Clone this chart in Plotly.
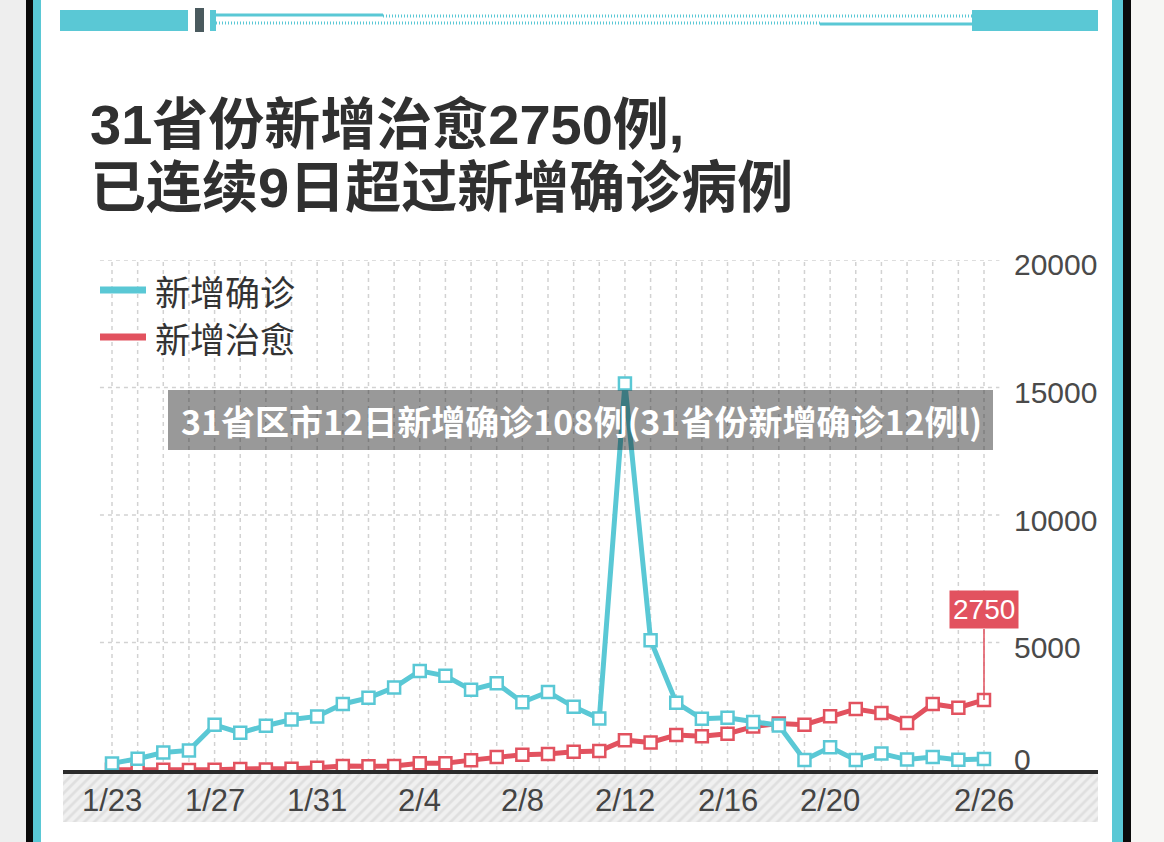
import plotly.graph_objects as go

W, H = 1164, 842

# ---------------- data ----------------
dates = ["1/23", "1/24", "1/25", "1/26", "1/27", "1/28", "1/29", "1/30", "1/31",
         "2/1", "2/2", "2/3", "2/4", "2/5", "2/6", "2/7", "2/8", "2/9", "2/10",
         "2/11", "2/12", "2/13", "2/14", "2/15", "2/16", "2/17", "2/18", "2/19",
         "2/20", "2/21", "2/22", "2/23", "2/24", "2/25", "2/26"]
confirmed = [259, 444, 688, 769, 1771, 1459, 1737, 1982, 2102, 2590, 2829, 3235,
             3887, 3694, 3143, 3399, 2656, 3062, 2478, 2015, 15152, 5090, 2641,
             2009, 2048, 1886, 1749, 394, 889, 397, 648, 409, 508, 406, 433]
cured = [6, 3, 11, 2, 9, 43, 21, 47, 85, 157, 147, 157, 262, 261, 387, 510, 600,
         632, 716, 744, 1171, 1081, 1373, 1323, 1425, 1701, 1824, 1779, 2109,
         2394, 2231, 1846, 2589, 2441, 2750]
x_tick_labels = ["1/23", "1/27", "1/31", "2/4", "2/8", "2/12", "2/16", "2/20", "2/26"]
y_ticks = [0, 5000, 10000, 15000, 20000]
series_names = ["新增确诊", "新增治愈"]
title_lines = ["31省份新增治愈2750例,", "已连续9日超过新增确诊病例"]
banner_text = "31省区市12日新增确诊108例(31省份新增确诊12例l)"

CYAN = "#5ac8d5"
RED = "#e2525f"
FONT_CJK = "Noto Sans CJK SC"
FONT_MIX = "Liberation Sans, Noto Sans CJK SC, sans-serif"
FONT_NUM = "Liberation Sans, Arial, sans-serif"


def px(x):
    return x / W


def py(y):
    return 1 - y / H


idx = list(range(len(dates)))
tick_idx = [dates.index(t) for t in x_tick_labels]

# plot area geometry (pixels)
X0, X1 = 63, 1098
Y_TOP, Y_BOT = 260, 770
first_px, last_px = 112, 984
per_day = (last_px - first_px) / (len(dates) - 1)
xr = [-(first_px - X0) / per_day, (len(dates) - 1) + (X1 - last_px) / per_day]

fig = go.Figure()

# hatched band under the axis (own subplot, drawn first)
fig.add_trace(go.Bar(
    x=[0], y=[1], width=[1], xaxis="x2", yaxis="y2", showlegend=False,
    hoverinfo="skip",
    marker=dict(color="#eeeeee", line=dict(width=0),
                pattern=dict(shape="/", bgcolor="#f0f0f0", fgcolor="#cdcdcd",
                             size=7, solidity=0.4)),
))

fig.add_trace(go.Scatter(
    x=idx, y=cured, mode="lines+markers", name=series_names[1], showlegend=False,
    cliponaxis=False,
    line=dict(color=RED, width=5),
    marker=dict(symbol="square", size=12, color="white", line=dict(color=RED, width=2.5)),
))
fig.add_trace(go.Scatter(
    x=idx, y=confirmed, mode="lines+markers", name=series_names[0], showlegend=False,
    cliponaxis=False,
    line=dict(color=CYAN, width=5),
    marker=dict(symbol="square", size=12, color="white", line=dict(color=CYAN, width=2.5)),
))

shapes = []
# gridlines (dashed)
for v in y_ticks[1:]:
    shapes.append(dict(type="line", xref="x", yref="y", x0=-0.47, x1=34.6, y0=v, y1=v,
                       line=dict(color="#d2d2d2", width=1.5, dash="4px,4px"), layer="below"))
for i in idx:
    shapes.append(dict(type="line", xref="x", yref="y", x0=i, x1=i, y0=0, y1=y_ticks[-1],
                       line=dict(color="#d2d2d2", width=1.5, dash="4px,4px"), layer="below"))

# frame: outer gray, black bezel, cyan edge
shapes += [
    dict(type="rect", xref="paper", yref="paper", x0=0, x1=px(26), y0=0, y1=1,
         fillcolor="#eeeeee", line=dict(width=0), layer="below"),
    dict(type="rect", xref="paper", yref="paper", x0=px(1131), x1=1, y0=0, y1=1,
         fillcolor="#f6f6f4", line=dict(width=0), layer="below"),
    dict(type="rect", xref="paper", yref="paper", x0=px(26), x1=px(33), y0=0, y1=1,
         fillcolor="#0a0a0a", line=dict(width=0)),
    dict(type="rect", xref="paper", yref="paper", x0=px(1123), x1=px(1131), y0=0, y1=1,
         fillcolor="#0a0a0a", line=dict(width=0)),
    dict(type="rect", xref="paper", yref="paper", x0=px(33), x1=px(41), y0=0, y1=1,
         fillcolor=CYAN, line=dict(width=0)),
    dict(type="rect", xref="paper", yref="paper", x0=px(1112), x1=px(1123), y0=0, y1=1,
         fillcolor=CYAN, line=dict(width=0)),
]

# top decoration
shapes += [
    dict(type="rect", xref="paper", yref="paper", x0=px(60), x1=px(188), y0=py(31), y1=py(10),
         fillcolor=CYAN, line=dict(width=0)),
    dict(type="rect", xref="paper", yref="paper", x0=px(972), x1=px(1098), y0=py(31), y1=py(10),
         fillcolor=CYAN, line=dict(width=0)),
    dict(type="rect", xref="paper", yref="paper", x0=px(195), x1=px(204), y0=py(32), y1=py(8),
         fillcolor="#4a5a5e", line=dict(width=0)),
    dict(type="rect", xref="paper", yref="paper", x0=px(210), x1=px(216), y0=py(31), y1=py(10),
         fillcolor=CYAN, line=dict(width=0)),
    dict(type="line", xref="paper", yref="paper", x0=px(216), x1=px(383), y0=py(15), y1=py(15),
         line=dict(color=CYAN, width=3)),
    dict(type="line", xref="paper", yref="paper", x0=px(383), x1=px(972), y0=py(16), y1=py(16),
         line=dict(color=CYAN, width=3, dash="1px,2px")),
    dict(type="line", xref="paper", yref="paper", x0=px(216), x1=px(820), y0=py(23), y1=py(23),
         line=dict(color=CYAN, width=3, dash="1px,2px")),
    dict(type="line", xref="paper", yref="paper", x0=px(820), x1=px(972), y0=py(24), y1=py(24),
         line=dict(color=CYAN, width=3)),
]

# legend swatches
shapes += [
    dict(type="line", xref="paper", yref="paper", x0=px(100), x1=px(146), y0=py(290), y1=py(290),
         line=dict(color=CYAN, width=7)),
    dict(type="line", xref="paper", yref="paper", x0=px(100), x1=px(146), y0=py(337), y1=py(337),
         line=dict(color=RED, width=7)),
]

# banner (semi-transparent, above the chart)
shapes.append(dict(type="rect", xref="paper", yref="paper", x0=px(168), x1=px(993),
                   y0=py(450), y1=py(390), fillcolor="rgba(22,22,22,0.44)",
                   line=dict(width=0), layer="above"))

annotations = []
# title
annotations.append(dict(xref="paper", yref="paper", x=px(88), y=py(124), xanchor="left",
                        yanchor="middle", showarrow=False, text="<b>" + title_lines[0] + "</b>",
                        font=dict(family=FONT_MIX, size=56, color="#303030")))
annotations.append(dict(xref="paper", yref="paper", x=px(88), y=py(188), xanchor="left",
                        yanchor="middle", showarrow=False, text="<b>" + title_lines[1] + "</b>",
                        font=dict(family=FONT_MIX, size=56, color="#303030")))
# legend texts
for name, yy in zip(series_names, [290, 337]):
    annotations.append(dict(xref="paper", yref="paper", x=px(153), y=py(yy), xanchor="left",
                            yanchor="middle", showarrow=False, text=name,
                            font=dict(family=FONT_CJK, size=35, color="#333333")))
# y tick labels on the right
for v in y_ticks:
    annotations.append(dict(xref="paper", yref="y", x=px(1012), y=v, xanchor="left",
                            yanchor="middle", showarrow=False, text=str(v),
                            yshift=11 if v == 0 else -5,
                            font=dict(family=FONT_NUM, size=30, color="#4a4a4a")))
# x tick labels (drawn above the hatched band)
for t in x_tick_labels:
    annotations.append(dict(xref="x", yref="paper", x=dates.index(t), y=py(800),
                            xanchor="center", yanchor="middle", showarrow=False, text=t,
                            font=dict(family=FONT_NUM, size=31, color="#444444")))
# value callout
annotations.append(dict(xref="x", yref="y", x=idx[-1], y=cured[-1], text=str(cured[-1]),
                        showarrow=True, arrowhead=0, arrowwidth=1.5, arrowcolor=RED,
                        ax=0, ay=-90, bgcolor=RED, borderpad=3,
                        font=dict(family=FONT_NUM, size=28, color="white")))
# banner text
annotations.append(dict(xref="paper", yref="paper", x=px(581), y=py(420), xanchor="center",
                        yanchor="middle", showarrow=False, text="<b>" + banner_text + "</b>",
                        font=dict(family=FONT_CJK, size=34, color="white")))

fig.update_layout(
    width=W, height=H,
    margin=dict(l=0, r=0, t=0, b=0),
    paper_bgcolor="white", plot_bgcolor="rgba(0,0,0,0)",
    showlegend=False,
    xaxis=dict(domain=[px(X0), px(X1)], range=xr, tickmode="array", tickvals=tick_idx,
               ticktext=x_tick_labels, showticklabels=False, showgrid=False, zeroline=False,
               showline=True, linecolor="#2b2b2b", linewidth=4, ticks="",
               automargin=False, fixedrange=True),
    yaxis=dict(domain=[py(Y_BOT), py(Y_TOP)], range=[0, 20000], showgrid=False,
               zeroline=False, showticklabels=False, ticks="", automargin=False),
    xaxis2=dict(domain=[px(X0), px(X1)], range=[-0.5, 0.5], anchor="y2", visible=False),
    yaxis2=dict(domain=[py(822), py(774)], range=[0, 1], anchor="x2", visible=False),
    bargap=0,
    shapes=shapes,
    annotations=annotations,
)

fig.write_html("out.html")
